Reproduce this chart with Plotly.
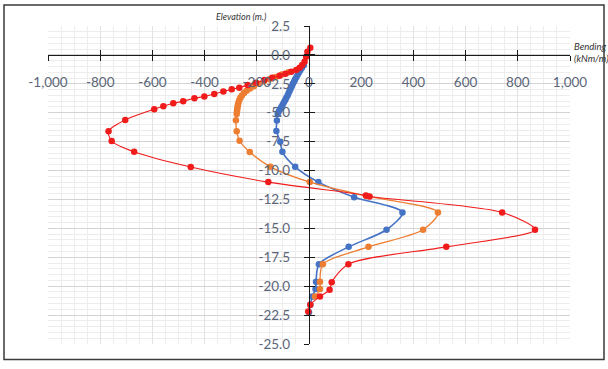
import plotly.graph_objects as go

# Bending moment envelopes along the wall: elevation (m) vs bending (kNm/m)
elev_blue = [-0.9, -1.1, -1.3, -1.5, -1.7, -1.9, -2.1, -2.3, -2.5, -2.7, -2.9, -3.1,
             -3.3, -3.5, -3.7, -3.9, -4.1, -4.3, -4.5, -4.7, -4.9, -5.1,
             -5.68, -6.57, -7.5, -8.38, -9.68, -11.0, -12.3, -13.62, -15.12, -16.6,
             -18.1, -19.62, -20.25, -20.9, -21.6, -22.25]
bend_blue = [-20, -27, -33, -38, -43, -48, -53, -57, -62, -66, -70, -74,
             -78, -82, -87, -91, -96, -101, -106, -111, -116, -120,
             -123, -125, -110, -102, -53, 36, 173, 358, 297, 152,
             38, 27, 25, 13, 5, 0]

elev_orange = [-1.5, -1.7, -1.9, -2.1, -2.3, -2.5, -2.7, -2.9, -3.1, -3.3, -3.5,
               -3.7, -3.9, -4.1, -4.3, -4.5, -4.7, -4.9, -5.1,
               -5.65, -6.6, -7.42, -8.4, -9.68, -11.0, -12.2, -13.62, -15.12,
               -16.6, -18.1, -19.62, -20.25, -20.9]
bend_orange = [-78, -104, -128, -152, -174, -194, -211, -226, -239, -249, -257,
               -263, -267, -270, -272, -274, -275, -276, -277,
               -280, -277, -266, -227, -148, 3, 220, 494, 437,
               228, 53, 42, 42, 23]

elev_red = [0.62, 0.28, -0.16, -0.6, -0.88, -1.1, -1.31, -1.45, -1.62, -1.8,
            -1.97, -2.17, -2.4, -2.6, -2.83, -2.97, -3.17, -3.38, -3.6, -3.75,
            -4.0, -4.18, -4.44, -4.7, -5.62, -6.6, -7.45, -8.38, -9.7, -11.0,
            -12.15, -12.25, -13.62, -15.12, -16.6, -18.1, -19.65, -20.3, -20.9,
            -21.6, -22.2]
bend_red = [5, -6, -11, -17, -26, -36, -49, -68, -90, -113,
            -141, -171, -203, -235, -267, -296, -328, -363, -401, -439,
            -482, -520, -558, -593, -704, -768, -756, -670, -453, -156,
            218, 232, 740, 866, 526, 151, 87, 79, 42,
            5, -3]

x_ticks = [-1000, -800, -600, -400, -200, 0, 200, 400, 600, 800, 1000]
x_tick_text = ["-1,000", "-800", "-600", "-400", "-200", "0",
               "200", "400", "600", "800", "1,000"]
y_ticks = [2.5, 0, -2.5, -5, -7.5, -10, -12.5, -15, -17.5, -20, -22.5, -25]
y_tick_text = ["2.5", "0.0", "-2.5", "-5.0", "-7.5", "-10.0", "-12.5",
               "-15.0", "-17.5", "-20.0", "-22.5", "-25.0"]

X_RANGE = [-1000, 1000]
Y_RANGE = [-25, 2.5]

W, H = 608, 369
ML, MR, MT, MB = 48, 38, 26, 25
PW, PH = W - ML - MR, H - MT - MB


def px_to_paper_x(px):
    return (px - ML) / PW


def px_to_paper_y(py):
    return (H - MB - py) / PH


series = [
    (elev_blue, bend_blue, "#4472C4", 1.6),
    (elev_orange, bend_orange, "#ED7D31", 1.3),
    (elev_red, bend_red, "#F01C1C", 1.1),
]

fig = go.Figure()
for elev, bend, color, lw in series:
    fig.add_trace(go.Scatter(
        x=bend, y=elev, mode="lines+markers",
        line=dict(color=color, width=lw, shape="spline", smoothing=0.8),
        marker=dict(size=6.5, color=color),
        showlegend=False, hoverinfo="skip",
    ))

# empty trace carrying the overlay axes that give the crossing tick marks
fig.add_trace(go.Scatter(x=[None], y=[None], xaxis="x2", yaxis="y2",
                         showlegend=False, hoverinfo="skip"))

x_cross = (0 - Y_RANGE[0]) / (Y_RANGE[1] - Y_RANGE[0])
y_cross = (0 - X_RANGE[0]) / (X_RANGE[1] - X_RANGE[0])
label_font = dict(family="Lato", size=13.5, color="#5b6579")

fig.update_layout(
    width=W, height=H, autosize=False,
    margin=dict(l=ML, r=MR, t=MT, b=MB, pad=0),
    paper_bgcolor="white", plot_bgcolor="white",
    xaxis=dict(
        range=X_RANGE, domain=[0, 1], anchor="free", position=x_cross,
        showline=True, linecolor="#1a1a1a", linewidth=1.3,
        ticks="outside", ticklen=5, tickwidth=1.3, tickcolor="#1a1a1a",
        tickmode="array", tickvals=x_ticks, ticktext=x_tick_text,
        tickfont=label_font, ticklabelstandoff=10,
        showgrid=True, gridcolor="#e2e2e2", gridwidth=1,
        minor=dict(tickmode="linear", tick0=0, dtick=50, showgrid=True,
                   gridcolor="#ededed", gridwidth=1, ticks=""),
        zeroline=False,
    ),
    yaxis=dict(
        range=Y_RANGE, domain=[0, 1], anchor="free", position=y_cross,
        showline=True, linecolor="#1a1a1a", linewidth=1.3,
        ticks="outside", ticklen=5, tickwidth=1.3, tickcolor="#1a1a1a",
        tickmode="array", tickvals=y_ticks, ticktext=y_tick_text,
        tickfont=label_font, ticklabelstandoff=11,
        showgrid=True, gridcolor="#d3d3d3", gridwidth=1,
        minor=dict(tickmode="linear", tick0=0, dtick=0.5, showgrid=True,
                   gridcolor="#ededed", gridwidth=1, ticks=""),
        zeroline=False,
    ),
    xaxis2=dict(
        range=X_RANGE, overlaying="x", anchor="free", position=x_cross,
        showline=False, showgrid=False, zeroline=False,
        ticks="inside", ticklen=5, tickwidth=1.3, tickcolor="#1a1a1a",
        tickmode="array", tickvals=x_ticks, showticklabels=False,
    ),
    yaxis2=dict(
        range=Y_RANGE, overlaying="y", anchor="free", position=y_cross,
        showline=False, showgrid=False, zeroline=False,
        ticks="inside", ticklen=5, tickwidth=1.3, tickcolor="#1a1a1a",
        tickmode="array", tickvals=y_ticks, showticklabels=False,
    ),
)

title_font = dict(family="Lato", size=9, color="#333333", style="italic")
fig.add_annotation(
    text="Elevation (m.)", xref="paper", yref="paper",
    x=px_to_paper_x(268), y=px_to_paper_y(16),
    xanchor="right", yanchor="middle", showarrow=False, font=title_font,
)
fig.add_annotation(
    text="Bending<br>(kNm/m)", xref="paper", yref="paper",
    x=px_to_paper_x(572), y=px_to_paper_y(52.5),
    xanchor="left", yanchor="middle", align="left", showarrow=False,
    font=dict(title_font, size=9.5),
)

# outer chart frame
fig.add_shape(
    type="rect", xref="paper", yref="paper",
    x0=px_to_paper_x(4), x1=px_to_paper_x(604),
    y0=px_to_paper_y(359.5), y1=px_to_paper_y(5),
    line=dict(color="#3a3a3a", width=1.5), fillcolor="rgba(0,0,0,0)",
)

fig.write_html("out.html")
